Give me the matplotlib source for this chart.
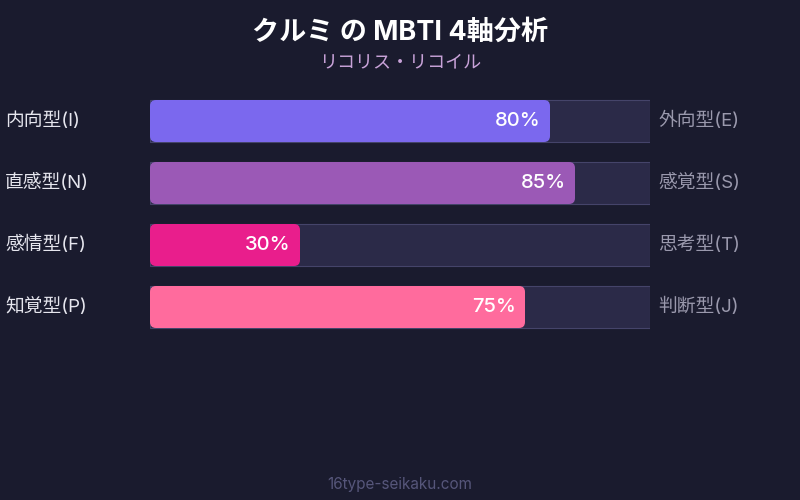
import matplotlib
matplotlib.use("Agg")
import matplotlib.pyplot as plt
from matplotlib.patches import FancyBboxPatch

plt.rcParams["font.family"] = ["Inter", "Noto Sans CJK JP", "DejaVu Sans"]

# ── data ──────────────────────────────────────────────────────────────────────
title = "クルミ の MBTI 4軸分析"
subtitle = "リコリス・リコイル"
left_labels = ["内向型(I)", "直感型(N)", "感情型(F)", "知覚型(P)"]
right_labels = ["外向型(E)", "感覚型(S)", "思考型(T)", "判断型(J)"]
values = [80, 85, 30, 75]
colors = ["#7b68ee", "#9b59b6", "#e91e8c", "#ff6b9d"]
footer = "16type-seikaku.com"

BG = "#1a1b2e"
TRACK = "#2b2a48"
TRACK_EDGE = "#45446a"

fig = plt.figure(figsize=(8, 5), dpi=100)
fig.patch.set_facecolor(BG)

# axes holds the bars: x 150..650 px, rows 62 px apart
ax = fig.add_axes([150 / 800, 1 - 338 / 500, 500 / 800, 248 / 500])
ax.set_xlim(0, 100)
ax.set_ylim(len(values) - 0.5, -0.5)
ax.axis("off")

bar_h = 42 / 62
ys = list(range(len(values)))

ax.barh(ys, [100] * len(values), height=bar_h, color=TRACK,
        edgecolor=TRACK_EDGE, linewidth=0.8)

aspect = 5 / 62   # px-per-unit x over px-per-unit y
for y, v, c in zip(ys, values, colors):
    patch = FancyBboxPatch((0, y - bar_h / 2), v, bar_h,
                           boxstyle="round,pad=0,rounding_size=1.2",
                           mutation_aspect=aspect,
                           facecolor=c, edgecolor="none")
    ax.add_patch(patch)
    ax.text(v - 1.8, y, f"{v}%", ha="right", va="center",
            color="white", fontsize=14.5, fontweight="medium")

for y, lab in zip(ys, left_labels):
    ax.text(-29, y, lab, ha="left", va="center", color="#e6e6ee",
            fontsize=13.5, clip_on=False)
for y, lab in zip(ys, right_labels):
    ax.text(101.6, y, lab, ha="left", va="center", color="#9a99ad",
            fontsize=13.5, clip_on=False)

fig.text(0.5, 1 - 33 / 500, title, ha="center", va="center",
         color="white", fontsize=19.5, fontweight="bold")
fig.text(0.5, 1 - 63 / 500, subtitle, ha="center", va="center",
         color="#c8a2d8", fontsize=13)
fig.text(0.5, 1 - 484 / 500, footer, ha="center", va="center",
         color="#56567a", fontsize=11)

fig.savefig("out.png", dpi=100, facecolor=BG)
